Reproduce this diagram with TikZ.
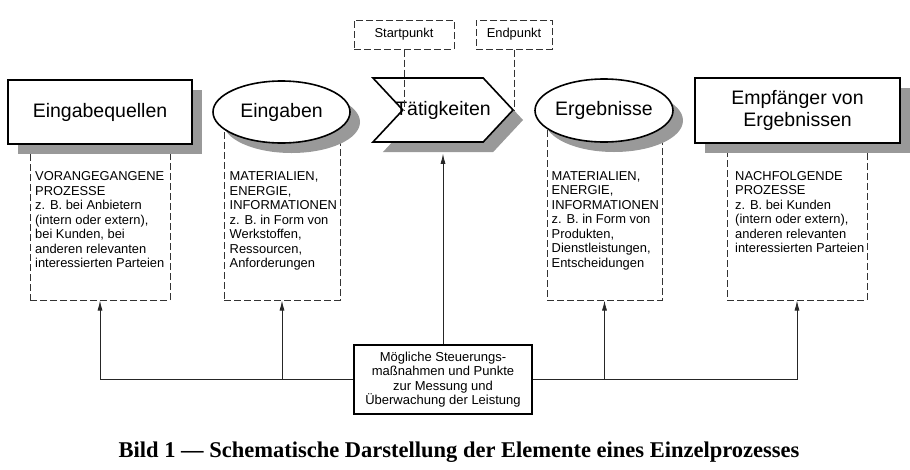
\documentclass[tikz,border=0pt]{standalone}
\usepackage{fontspec}
\setmainfont{Liberation Sans}
\newfontfamily\captionfont{Liberation Serif}
\usetikzlibrary{shapes.geometric, shapes.symbols, arrows.meta, shadows}

\tikzset{
  shadowed/.style={fill=white, draw, line width=1.6pt,
    drop shadow={shadow xshift=10pt, shadow yshift=-10pt, fill=black!40, opacity=1}},
  bigtext/.style={font=\fontsize{19.5}{22}\selectfont},
  smalltext/.style={font=\fontsize{12.9}{14.5}\selectfont},
  dashbox/.style={draw=black!80, line width=1pt, dash pattern=on 7pt off 3pt},
  listtext/.style={smalltext, anchor=north west, inner sep=0pt, align=left},
  link/.style={draw=black!85, line width=0.8pt},
  uparrow/.style={link, -{Latex[length=10pt, width=5pt]}}
}

\begin{document}
\begin{tikzpicture}[x=1pt, y=-1pt]
          \useasboundingbox (0,0) rectangle (910,469);

          % dashed boxes behind the shapes
          \node[dashbox, minimum width=140pt, minimum height=188pt] (quellenbox) at (100,206) {};
          \node[dashbox, minimum width=116pt, minimum height=188pt] (eingabenbox) at (282,206) {};
          \node[dashbox, minimum width=115pt, minimum height=190pt] (ergebbox) at (604.5,205) {};
          \node[dashbox, minimum width=140pt, minimum height=190pt] (empfbox) at (797,205) {};

          \node[listtext] (quellentxt) at (35,171.5) {VORANGEGANGENE\\PROZESSE\\z. B. bei Anbietern\\(intern oder extern),\\bei Kunden, bei\\anderen relevanten\\interessierten Parteien};
          \node[listtext] (eingabentxt) at (229.5,171.5) {MATERIALIEN,\\ENERGIE,\\INFORMATIONEN\\z. B. in Form von\\Werkstoffen,\\Ressourcen,\\Anforderungen};
          \node[listtext] (ergebtxt) at (551.5,171) {MATERIALIEN,\\ENERGIE,\\INFORMATIONEN\\z. B. in Form von\\Produkten,\\Dienstleistungen,\\Entscheidungen};
          \node[listtext] (empftxt) at (735,171) {NACHFOLGENDE\\PROZESSE\\z. B. bei Kunden\\(intern oder extern),\\anderen relevanten\\interessierten Parteien};

          % main elements
          \node[shadowed, bigtext, rectangle, minimum width=184pt, minimum height=64pt] (quellen) at (100,112) {Eingabequellen};
          \node[shadowed, bigtext, ellipse, minimum width=137pt, minimum height=62pt, inner sep=0pt] (eingaben) at (281.5,112) {Eingaben};
          \node[shadowed, bigtext, signal, signal from=west, signal to=east, signal pointer angle=94,
                minimum height=64pt, inner xsep=-7.5pt, inner ysep=0pt] (taet) at (443,110) {T\"atigkeiten};
          \node[shadowed, bigtext, ellipse, minimum width=136pt, minimum height=63pt, inner sep=0pt] (ergeb) at (604,110.5) {Ergebnisse};
          \node[shadowed, bigtext, rectangle, align=center, minimum width=205pt, minimum height=65pt] (empf) at (797.5,110.5) {Empf\"anger von\\Ergebnissen};

          % start and end points
          \node[dashbox, smalltext, draw, minimum width=100pt, minimum height=29pt] (start) at (404,34.5) {Startpunkt};
          \node[dashbox, smalltext, draw, minimum width=76pt, minimum height=29pt] (end) at (514,34.5) {Endpunkt};
          \draw[dashbox] (start.south) -- (start.south |- taet.center);
          \draw[dashbox] (end.south) -- (end.south |- taet.center);

          % control and measurement
          \node[draw, line width=1.6pt, fill=white, smalltext, align=center, font=\fontsize{13}{14.3}\selectfont,
                minimum width=178pt, minimum height=69pt, inner sep=2pt] (ctrl) at (443,379.5)
                {M\"ogliche Steuerungs-\\ma\ss nahmen und Punkte\\zur Messung und\\\"Uberwachung der Leistung};
          \draw[uparrow, shorten >=11pt] (ctrl.north) -- (taet.south);
          \draw[uparrow] (ctrl.west) -| (quellenbox.south);
          \draw[uparrow] (eingabenbox.south |- ctrl.west) -- (eingabenbox.south);
          \draw[uparrow] (ctrl.east) -| (empfbox.south);
          \draw[uparrow] (ergebbox.south |- ctrl.east) -- (ergebbox.south);

          \node[font=\captionfont\bfseries\fontsize{22.5}{26}\selectfont] (caption) at (459,452) {Bild 1 — Schematische Darstellung der Elemente eines Einzelprozesses};
      \end{tikzpicture}
\end{document}
